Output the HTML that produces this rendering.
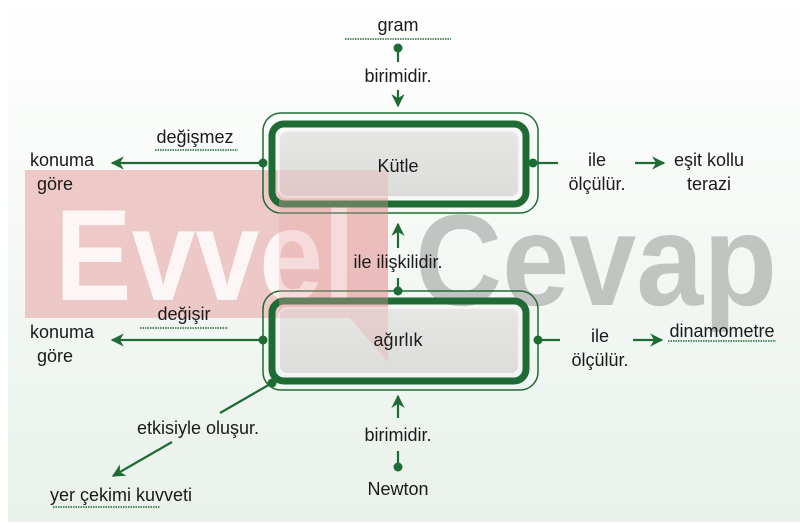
<!DOCTYPE html>
<html><head><meta charset="utf-8"><style>
html,body{margin:0;padding:0;background:#fff}
svg{display:block}
text{font-family:"Liberation Sans",Arial,sans-serif;fill:#1a1a1a}
</style></head><body>
<svg width="800" height="528" viewBox="0 0 800 528" xmlns="http://www.w3.org/2000/svg">
<defs>
<linearGradient id="bg" x1="0" y1="0" x2="0" y2="1">
<stop offset="0" stop-color="#ffffff"/><stop offset="1" stop-color="#e9f1ea"/>
</linearGradient>
<linearGradient id="box" x1="0" y1="0" x2="0" y2="1">
<stop offset="0" stop-color="#e6e6e4"/><stop offset="1" stop-color="#dcdcda"/>
</linearGradient>
<marker id="ar" viewBox="0 0 10 10" refX="9" refY="5" markerWidth="6" markerHeight="6" orient="auto">
<path d="M0,0 L10,5 L0,10 L3,5 Z" fill="#1e6b35"/>
</marker>
</defs>
<rect x="0" y="0" width="800" height="528" fill="#fff"/>
<rect x="8" y="0" width="792" height="522" fill="url(#bg)"/>

<!-- watermark -->
<polygon points="25,170 388,170 388,362 350,318 25,318" fill="#e8a9a8" opacity="0.6"/>
<text x="55" y="300" font-size="130" font-weight="bold" style="fill:#fff" opacity="0.85" textLength="300" lengthAdjust="spacingAndGlyphs">Evvel</text>
<text x="415" y="305" font-size="130" font-weight="bold" style="fill:#b9bbb9" opacity="0.85" textLength="362" lengthAdjust="spacingAndGlyphs">Cevap</text>

<g stroke="#1e6b35" fill="none">
<rect x="263" y="113" width="275" height="100" rx="18" stroke-width="1.5"/>
<rect x="272" y="124" width="254" height="80" rx="12" stroke-width="7"/>
<rect x="263" y="291" width="275" height="99" rx="18" stroke-width="1.5"/>
<rect x="272" y="301" width="254" height="80" rx="12" stroke-width="7"/>
</g>
<rect x="279" y="131" width="240" height="66" rx="8" fill="url(#box)" stroke="#f4f4f4" stroke-width="2"/>
<rect x="279" y="308" width="240" height="66" rx="8" fill="url(#box)" stroke="#f4f4f4" stroke-width="2"/>
<polygon points="279,170 388,170 388,362 350,318 279,318" fill="#e8a9a8" opacity="0.35"/>

<g stroke="#1e6b35" stroke-width="2.2" fill="none">
<line x1="398" y1="50" x2="398" y2="62"/>
<line x1="398" y1="90" x2="398" y2="106" marker-end="url(#ar)"/>
<line x1="263" y1="163" x2="112" y2="163" marker-end="url(#ar)"/>
<line x1="533" y1="163" x2="558" y2="163"/>
<line x1="635" y1="163" x2="664" y2="163" marker-end="url(#ar)"/>
<line x1="398" y1="248" x2="398" y2="224" marker-end="url(#ar)"/>
<line x1="398" y1="278" x2="398" y2="291"/>
<line x1="263" y1="340" x2="112" y2="340" marker-end="url(#ar)"/>
<line x1="538" y1="340" x2="560" y2="340"/>
<line x1="633" y1="340" x2="662" y2="340" marker-end="url(#ar)"/>
<line x1="272" y1="383" x2="220" y2="413"/>
<line x1="172" y1="442" x2="113" y2="476" marker-end="url(#ar)"/>
<line x1="398" y1="418" x2="398" y2="396" marker-end="url(#ar)"/>
<line x1="398" y1="451" x2="398" y2="466"/>
</g>
<g fill="#1e6b35">
<circle cx="398" cy="48" r="4.5"/>
<circle cx="263" cy="163" r="4.5"/>
<circle cx="533" cy="163" r="4.5"/>
<circle cx="398" cy="291" r="4.5"/>
<circle cx="263" cy="340" r="4.5"/>
<circle cx="538" cy="340" r="4.5"/>
<circle cx="272" cy="383" r="4.5"/>
<circle cx="398" cy="467" r="4.5"/>
</g>
<g stroke="#1e6b35" stroke-width="1.5" stroke-dasharray="1.5,1">
<line x1="345" y1="39" x2="451" y2="39"/>
<line x1="155" y1="150" x2="238" y2="150"/>
<line x1="140" y1="328" x2="228" y2="328"/>
<line x1="668" y1="341" x2="776" y2="341"/>
<line x1="53" y1="507" x2="160" y2="507"/>
</g>

<g font-size="18">
<text x="398" y="31" text-anchor="middle">gram</text>
<text x="398" y="82" text-anchor="middle">birimidir.</text>
<text x="398" y="172" text-anchor="middle">Kütle</text>
<text x="195" y="143" text-anchor="middle">değişmez</text>
<text x="62" y="166" text-anchor="middle">konuma</text>
<text x="55" y="190" text-anchor="middle">göre</text>
<text x="597" y="166" text-anchor="middle">ile</text>
<text x="597" y="190" text-anchor="middle">ölçülür.</text>
<text x="709" y="166" text-anchor="middle">eşit kollu</text>
<text x="709" y="190" text-anchor="middle">terazi</text>
<text x="398" y="268" text-anchor="middle">ile ilişkilidir.</text>
<text x="398" y="346" text-anchor="middle">ağırlık</text>
<text x="184" y="320" text-anchor="middle">değişir</text>
<text x="62" y="338" text-anchor="middle">konuma</text>
<text x="55" y="362" text-anchor="middle">göre</text>
<text x="600" y="342" text-anchor="middle">ile</text>
<text x="600" y="366" text-anchor="middle">ölçülür.</text>
<text x="722" y="337" text-anchor="middle">dinamometre</text>
<text x="198" y="434" text-anchor="middle">etkisiyle oluşur.</text>
<text x="398" y="441" text-anchor="middle">birimidir.</text>
<text x="121" y="501" text-anchor="middle">yer çekimi kuvveti</text>
<text x="398" y="495" text-anchor="middle">Newton</text>
</g>
</svg>
</body></html>
